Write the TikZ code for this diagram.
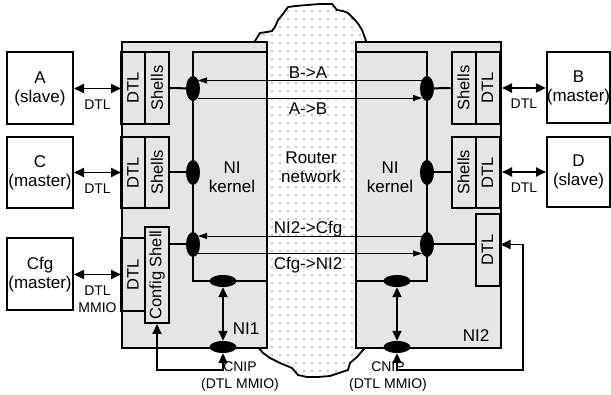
\documentclass[tikz,border=0pt]{standalone}
\usepackage{fontspec}
\setmainfont{Liberation Sans}
\usetikzlibrary{arrows.meta,shapes.geometric,patterns.meta}
\tikzset{ext/.style={draw,rectangle,line width=2pt,fill=white,minimum width=66pt,inner sep=0pt,align=center,font=\fontsize{17}{19}\selectfont},
  nibox/.style={draw,rectangle,line width=2pt,fill=gray!20,anchor=north west,minimum width=145pt,minimum height=306pt},
  blk/.style={draw,rectangle,line width=2pt,rotate=90,minimum height=24pt,inner sep=0pt,font=\fontsize{16.5}{19}\selectfont},
  vell/.style={ellipse,fill=black,inner sep=0pt,minimum width=14pt,minimum height=25pt},
  hell/.style={ellipse,fill=black,inner sep=0pt,minimum width=27pt,minimum height=12pt},
  kl/.style={line width=2pt},
  dbl/.style={{Triangle[length=10pt,width=9pt]}-{Triangle[length=10pt,width=9pt]},line width=1.8pt},
  tarr/.style={-{Triangle[length=9pt,width=6pt]},line width=0.9pt},
  lbl/.style={font=\fontsize{17}{19.5}\selectfont,align=center},
  sml/.style={font=\fontsize{14}{17}\selectfont,align=center,inner sep=2pt}}
\begin{document}
\begin{tikzpicture}[x=1pt,y=-1pt]
\useasboundingbox (0,0) rectangle (611,395);
\draw[line width=1.8pt,fill=white,postaction={pattern color=black,pattern={Dots[distance=8pt,radius=0.65pt]}}]
  (255,41) -- (260,33) -- (267,32) -- (272,31) -- (275,27) -- (278,20) -- (283,14) -- (288,7) -- (296,6) -- (307,5)
  -- (320,4) -- (332,4) -- (337,10) -- (343,11) -- (348,13) -- (355,20) -- (359,25) -- (362,30) -- (365,38) -- (366,41)
  -- (366,347) -- (363,350) -- (357,357) -- (350,363) -- (348,370) -- (342,372) -- (330,376) -- (318,377) -- (307,377)
  -- (298,375) -- (292,368) -- (280,363) -- (270,358) -- (263,353) -- (258,347) -- cycle;
\node[nibox] (ni1) at (121,41) {};
\node[nibox] (ni2) at (355,41) {};
\draw[kl] (266,52) -- (193,52) -- (193,281) -- (266,281);
\draw[kl] (355,52) -- (427,52) -- (427,281) -- (355,281);
\node[blk,minimum width=72pt] (dtlA) at (133,88) {DTL};
\node[blk,minimum width=72pt] (shA) at (157,88) {Shells};
\node[blk,minimum width=71pt] (dtlC) at (133,172.5) {DTL};
\node[blk,minimum width=71pt] (shC) at (157,172.5) {Shells};
\node[blk,minimum width=73pt] (dtlCfg) at (133,274.5) {DTL};
\node[blk,minimum width=96pt] (cfgsh) at (157,275) {Config Shell};
\node[blk,minimum width=72pt] (shB) at (463.5,88) {Shells};
\node[blk,minimum width=72pt] (dtlB) at (487.5,88) {DTL};
\node[blk,minimum width=71pt] (shD) at (463.5,172.5) {Shells};
\node[blk,minimum width=71pt] (dtlD) at (487.5,172.5) {DTL};
\node[blk,minimum width=72pt] (dtlNI) at (487.5,250) {DTL};
\node[vell] (l1) at (193,88.5) {};
\node[vell] (l2) at (193,172.5) {};
\node[vell] (l3) at (193,244.5) {};
\node[hell] (lk) at (223,281) {};
\node[hell] (lp) at (223,347) {};
\node[vell] (r1) at (427,88.5) {};
\node[vell] (r2) at (427,172.5) {};
\node[vell] (r3) at (427,244.5) {};
\node[hell] (rk) at (397,281) {};
\node[hell] (rp) at (397,347) {};
\draw[kl] (shA.south) -- (l1);
\draw[kl] (shC.south) -- (l2);
\draw[kl] (cfgsh.south |- l3) -- (l3);
\draw[kl] (shB.north) -- (r1);
\draw[kl] (shD.north) -- (r2);
\draw[kl] (dtlNI.north |- r3) -- (r3);
\draw[tarr] ([xshift=-5pt,yshift=8pt]r1.center) -- ([xshift=5pt,yshift=8pt]l1.center);
\draw[tarr] ([xshift=5pt,yshift=-9.5pt]l1.center) -- ([xshift=-5pt,yshift=-9.5pt]r1.center);
\draw[tarr] ([xshift=-5pt,yshift=8.5pt]r3.center) -- ([xshift=5pt,yshift=8.5pt]l3.center);
\draw[tarr] ([xshift=5pt,yshift=-9pt]l3.center) -- ([xshift=-5pt,yshift=-9pt]r3.center);
\node[lbl,anchor=base] (tBA) at (308,78.5) {B->A};
\node[lbl,anchor=base] (tAB) at (308,115) {A->B};
\node[lbl,anchor=base] (tNC) at (308,234) {NI2->Cfg};
\node[lbl,anchor=base] (tCN) at (308,270) {Cfg->NI2};
\node[lbl] (router) at (311,167) {Router\\network};
\node[lbl] (kern1) at (232,177) {NI\\kernel};
\node[lbl] (kern2) at (390,177) {NI\\kernel};
\node[lbl] (ni1lbl) at (246,329) {NI1};
\node[lbl] (ni2lbl) at (476,336) {NI2};
\draw[dbl] (lk) -- (lp);
\draw[dbl] (rk) -- (rp);
\coordinate (fbL) at (157,370);
\coordinate (fbR) at (523,370);
\draw[dbl] (cfgsh.west) -- (fbL) -| (lp.south);
\draw[dbl] (rp.south) |- (fbR) |- (dtlNI.south |- r3);
\node[sml] (cnip1) at (240,377) {CNIP\\(DTL MMIO)};
\node[sml] (cnip2) at (388,377) {CNIP\\(DTL MMIO)};
\node[ext,minimum height=72pt] (A) at (40,88.5) {A\\(slave)};
\node[ext,minimum height=71pt] (C) at (40,172.5) {C\\(master)};
\node[ext,minimum height=72pt] (Cfg) at (40,274.5) {Cfg\\(master)};
\node[ext,minimum width=63pt,minimum height=71pt] (B) at (578.5,88) {B\\(master)};
\node[ext,minimum width=63pt,minimum height=70pt] (D) at (578.5,172) {D\\(slave)};
\draw[dbl] (A.east) -- node[sml,below=8pt] (lA) {DTL} (A.east -| ni1.west);
\draw[dbl] (C.east) -- node[sml,below=8pt] (lC) {DTL} (C.east -| ni1.west);
\draw[dbl] (Cfg.east) -- node[sml,below=8pt] (lCfg) {DTL\\MMIO} (Cfg.east -| ni1.west);
\draw[dbl] (B.west -| ni2.east) -- node[sml,below=8pt] (lB) {DTL} (B.west);
\draw[dbl] (D.west -| ni2.east) -- node[sml,below=8pt] (lD) {DTL} (D.west);
\end{tikzpicture}
\end{document}
